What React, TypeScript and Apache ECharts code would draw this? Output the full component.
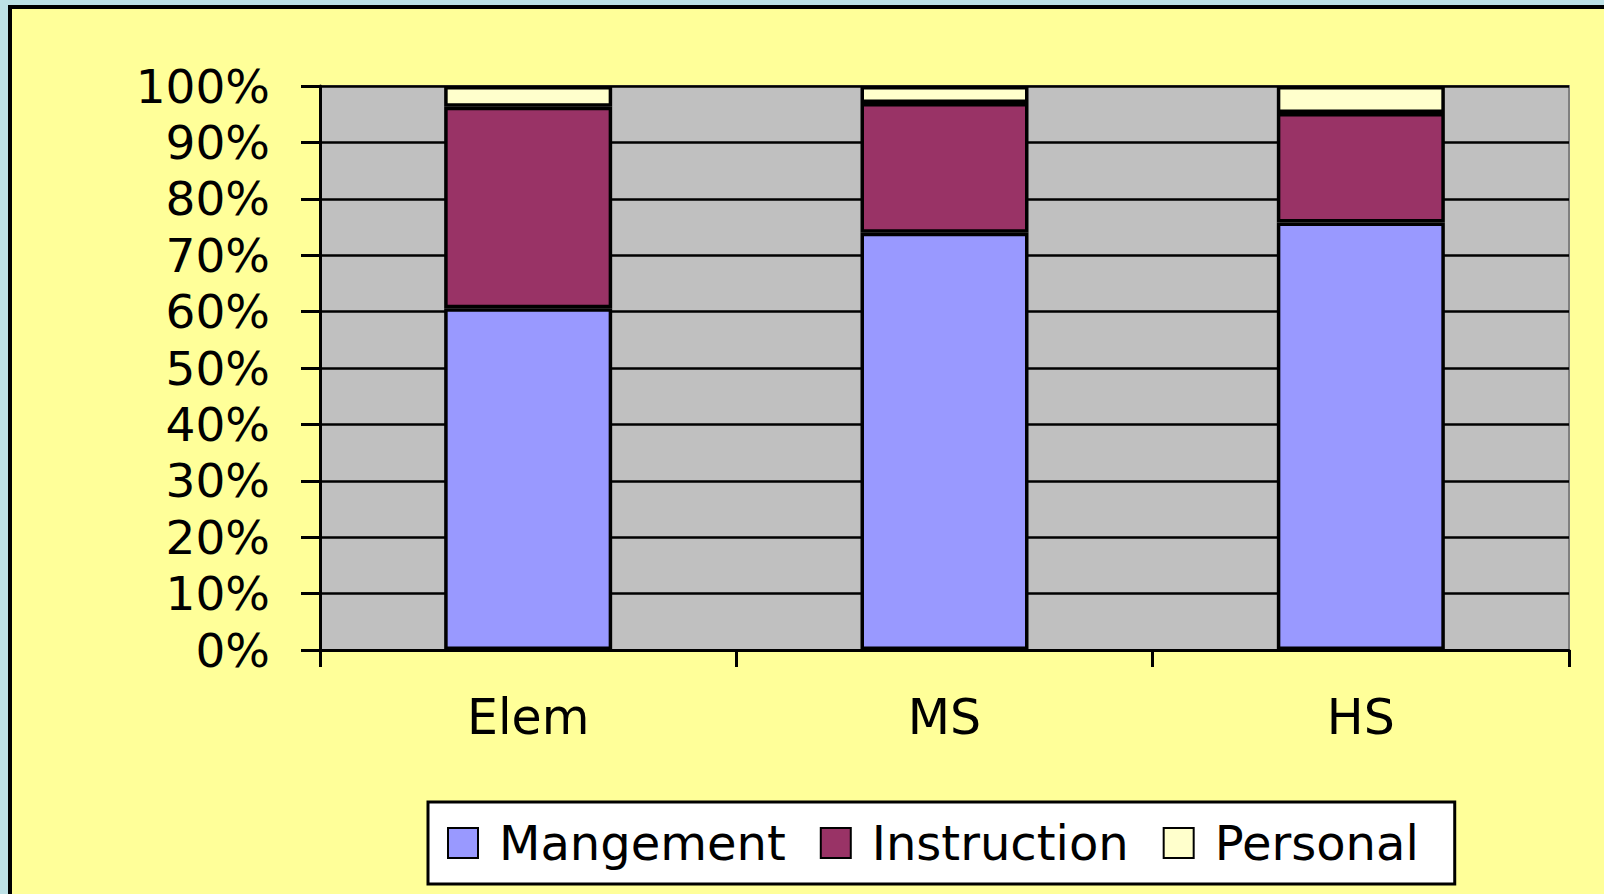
import React, { useEffect, useRef } from "react";
import * as echarts from "echarts";

const categories = ["Elem", "MS", "HS"];
const management = [60.6, 74.0, 75.8];
const instruction = [35.7, 23.0, 19.4];
const personal = [3.7, 3.0, 4.8];
const seriesNames = ["Mangement", "Instruction", "Personal"];
const seriesColors = ["#9999FF", "#993366", "#FFFFCC"];

const FONT = "DejaVu Sans";

export default function App() {
  const ref = useRef<HTMLDivElement>(null);
  useEffect(() => {
    if (!ref.current) return;
    const chart = echarts.init(ref.current, null, { renderer: "svg" });
    const values = [management, instruction, personal];
    chart.setOption({
      animation: false,
      backgroundColor: "transparent",
      grid: {
        left: 320,
        right: 35,
        top: 86,
        bottom: 244,
        show: true,
        backgroundColor: "#C0C0C0",
        borderColor: "#808080",
        borderWidth: 2,
      },
      xAxis: {
        type: "category",
        data: categories,
        axisLine: { show: true, lineStyle: { color: "#000", width: 3 } },
        axisTick: { show: true, alignWithLabel: false, length: 17, lineStyle: { color: "#000", width: 3 } },
        axisLabel: { color: "#000", fontFamily: FONT, fontSize: 49, margin: 43 },
        splitLine: { show: false },
      },
      yAxis: {
        type: "value",
        min: 0,
        max: 100,
        interval: 10,
        axisLine: { show: true, lineStyle: { color: "#000", width: 3 } },
        axisTick: { show: true, length: 19, lineStyle: { color: "#000", width: 3 } },
        axisLabel: { color: "#000", fontFamily: FONT, fontSize: 47, margin: 50, formatter: "{value}%" },
        splitLine: { show: true, lineStyle: { color: "#000", width: 2.5 } },
      },
      legend: {
        left: 428,
        top: 802,
        orient: "horizontal",
        backgroundColor: "#FFFFFF",
        borderColor: "#000",
        borderWidth: 3,
        padding: [17, 36, 17, 19],
        itemWidth: 30,
        itemHeight: 30,
        itemGap: 34,
        icon: "rect",
        data: seriesNames,
        formatter: (name: string) => `{t|${name}}`,
        textStyle: {
          color: "#000",
          fontFamily: FONT,
          fontSize: 48,
          rich: { t: { fontFamily: FONT, fontSize: 48, color: "#000", padding: [0, 0, 0, 16] } },
        },
      },
      series: seriesNames.map((name, i) => ({
        name,
        type: "bar",
        stack: "total",
        barWidth: 168,
        data: values[i],
        itemStyle: { color: seriesColors[i], borderColor: "#000", borderWidth: 3.5 },
      })),
    });
    return () => chart.dispose();
  }, []);

  return (
    <div
      style={{
        position: "fixed",
        left: 0,
        top: 0,
        width: 1604,
        height: 894,
        background: "#BDE1E6",
        overflow: "hidden",
      }}
    >
      <div
        style={{
          position: "absolute",
          left: 8,
          top: 5,
          width: 2000,
          height: 2000,
          background: "#FFFF99",
          border: "4px solid #000",
        }}
      />
      <div ref={ref} style={{ position: "absolute", left: 0, top: 0, width: 1604, height: 894 }} />
    </div>
  );
}
